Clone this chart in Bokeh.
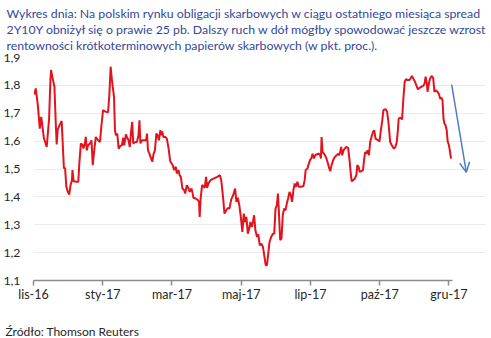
from bokeh.plotting import figure
from bokeh.models import Range1d, FixedTicker, Title, Arrow, OpenHead
from bokeh.embed import file_html
from bokeh.resources import INLINE

# trading-day index (x) and 2Y10Y spread in p.p. (y)
day_index = [0.6, 1.4, 2.7, 3.9, 4.8, 5.6, 6.4, 8.2, 8.8, 9.7, 10.5, 10.9, 11.9, 13.0, 13.8, 14.4, 15.0,
             16.2, 17.5, 18.3, 18.9, 19.6, 20.4, 21.2, 22.2, 23.0, 23.9, 24.2, 24.9, 26.7, 27.8, 28.4,
             29.4, 30.4, 31.0, 31.9, 32.5, 33.1, 33.9, 35.2, 36.0, 36.8, 37.6, 38.7, 40.1, 41.3, 42.1,
             43.2, 44.2, 45.2, 46.3, 47.1, 47.9, 48.7, 50.0, 50.6, 51.2, 52.0, 52.9, 53.9, 54.9, 55.7,
             56.3, 57.4, 58.2, 59.0, 59.8, 60.6, 61.3, 61.9, 63.1, 64.3, 65.2, 65.8, 66.4, 67.4, 68.9,
             69.9, 70.5, 71.1, 72.0, 73.0, 73.8, 74.6, 75.4, 76.3, 77.1, 77.9, 78.8, 79.4, 80.0, 80.6,
             81.9, 82.8, 83.9, 84.9, 86.4, 87.4, 88.4, 89.0, 90.1, 90.7, 91.5, 92.5, 93.6, 94.2, 95.2,
             96.2, 97.0, 98.1, 98.7, 99.3, 100.7, 102.2, 102.8, 103.2, 103.8, 104.7, 105.5, 106.3,
             107.2, 107.8, 108.6, 110.0, 112.1, 114.1, 115.8, 116.6, 117.8, 118.6, 119.7, 120.7,
             121.7, 122.8, 124.0, 125.2, 126.0, 126.9, 127.9, 128.9, 129.7, 130.6, 131.4, 132.2,
             133.1, 133.9, 134.7, 135.5, 136.3, 137.0, 137.8, 138.8, 139.6, 140.5, 141.5, 142.5,
             143.3, 144.2, 145.0, 145.8, 146.6, 147.6, 148.7, 149.5, 150.3, 151.1, 151.8, 152.4,
             153.2, 154.0, 154.8, 155.6, 156.5, 157.3, 158.1, 159.0, 159.8, 160.6, 161.4, 162.2,
             163.0, 163.9, 164.7, 165.9, 167.6, 168.4, 169.0, 170.1, 170.7, 171.7, 172.5, 173.3,
             174.2, 175.0, 175.8, 176.9, 177.9, 178.5, 178.9, 179.5, 180.6, 181.6, 182.6, 183.7,
             184.3, 185.1, 186.1, 187.1, 188.2, 189.2, 189.8, 190.4, 191.1, 191.7, 192.5, 193.3,
             194.3, 195.4, 196.4, 197.0, 197.6, 198.5, 199.4, 200.5, 201.1, 201.9, 202.5, 203.6,
             204.6, 205.4, 206.0, 206.7, 207.5, 208.3, 209.1, 209.9, 210.8, 211.6, 212.4, 214.1,
             214.9, 215.7, 216.5, 217.3, 218.6, 219.6, 220.4, 221.5, 222.5, 223.8, 224.7, 225.6,
             226.2, 226.8, 227.8, 228.9, 229.7, 230.5, 231.3, 232.4, 233.4, 234.2, 235.0, 235.8,
             236.9, 237.7, 238.7, 239.8, 240.8, 242.0, 242.9, 243.5, 244.3, 244.7, 245.3, 246.1,
             247.2, 248.2, 249.0, 249.8, 250.9, 251.9, 252.5, 253.4, 254.0, 254.6, 255.2, 256.0,
             256.6, 257.2, 258.0, 258.7, 259.3]
spread = [1.767, 1.789, 1.729, 1.645, 1.687, 1.651, 1.612, 1.579, 1.620, 1.681, 1.819, 1.855, 1.825,
          1.795, 1.669, 1.588, 1.640, 1.657, 1.672, 1.573, 1.502, 1.504, 1.436, 1.420, 1.408, 1.442,
          1.460, 1.496, 1.456, 1.454, 1.454, 1.514, 1.592, 1.586, 1.574, 1.592, 1.615, 1.567, 1.585,
          1.592, 1.603, 1.514, 1.561, 1.615, 1.603, 1.597, 1.651, 1.711, 1.707, 1.705, 1.703, 1.765,
          1.867, 1.819, 1.759, 1.639, 1.621, 1.627, 1.573, 1.583, 1.585, 1.612, 1.585, 1.624, 1.612,
          1.603, 1.579, 1.633, 1.669, 1.592, 1.596, 1.598, 1.621, 1.675, 1.592, 1.603, 1.603, 1.603,
          1.627, 1.567, 1.555, 1.538, 1.526, 1.555, 1.567, 1.627, 1.621, 1.603, 1.639, 1.621, 1.635,
          1.615, 1.615, 1.609, 1.573, 1.528, 1.514, 1.496, 1.508, 1.484, 1.496, 1.478, 1.472, 1.430,
          1.424, 1.412, 1.442, 1.432, 1.418, 1.430, 1.416, 1.397, 1.394, 1.388, 1.382, 1.328, 1.394,
          1.442, 1.439, 1.432, 1.472, 1.432, 1.448, 1.460, 1.466, 1.472, 1.478, 1.460, 1.394, 1.340,
          1.352, 1.360, 1.358, 1.391, 1.406, 1.430, 1.382, 1.397, 1.367, 1.320, 1.274, 1.340, 1.310,
          1.328, 1.268, 1.286, 1.310, 1.292, 1.310, 1.334, 1.280, 1.256, 1.265, 1.226, 1.232, 1.220,
          1.190, 1.155, 1.155, 1.197, 1.239, 1.256, 1.268, 1.268, 1.358, 1.370, 1.412, 1.346, 1.245,
          1.250, 1.334, 1.358, 1.352, 1.376, 1.394, 1.418, 1.406, 1.382, 1.424, 1.448, 1.436, 1.454,
          1.436, 1.436, 1.438, 1.460, 1.496, 1.502, 1.514, 1.532, 1.538, 1.555, 1.538, 1.550, 1.552,
          1.555, 1.552, 1.538, 1.615, 1.561, 1.553, 1.543, 1.525, 1.502, 1.492, 1.514, 1.532, 1.543,
          1.549, 1.555, 1.549, 1.561, 1.579, 1.549, 1.567, 1.573, 1.579, 1.576, 1.525, 1.484, 1.456,
          1.460, 1.464, 1.478, 1.514, 1.508, 1.490, 1.492, 1.496, 1.538, 1.561, 1.555, 1.567, 1.549,
          1.597, 1.615, 1.633, 1.639, 1.609, 1.603, 1.599, 1.639, 1.669, 1.711, 1.715, 1.705, 1.669,
          1.597, 1.585, 1.573, 1.579, 1.597, 1.633, 1.681, 1.684, 1.678, 1.753, 1.813, 1.822, 1.819,
          1.819, 1.825, 1.834, 1.825, 1.813, 1.801, 1.786, 1.791, 1.795, 1.798, 1.807, 1.831, 1.807,
          1.777, 1.798, 1.822, 1.834, 1.827, 1.777, 1.783, 1.777, 1.767, 1.753, 1.755, 1.747, 1.681,
          1.663, 1.655, 1.639, 1.599, 1.585, 1.561, 1.537]

x_tick_index = [0, 43, 86, 129, 172, 215, 258]
x_tick_labels = ["lis-16", "sty-17", "mar-17", "maj-17", "lip-17", "paź-17", "gru-17"]
y_ticks = [1.1, 1.2, 1.3, 1.4, 1.5, 1.6, 1.7, 1.8, 1.9]
y_tick_labels = ["1,1", "1,2", "1,3", "1,4", "1,5", "1,6", "1,7", "1,8", "1,9"]

arrow_x = [259.7, 268.8]
arrow_y = [1.803, 1.488]

title_lines = [
    "Wykres dnia: Na polskim rynku obligacji skarbowych w ciągu ostatniego miesiąca spread",
    "2Y10Y obniżył się o prawie 25 pb. Dalszy ruch w dół mógłby spowodować jeszcze wzrost",
    "rentowności krótkoterminowych papierów skarbowych (w pkt. proc.).",
]
source_text = "Źródło: Thomson Reuters"

FONT = "Lato"
TITLE_COLOR = "#34489A"
TEXT_COLOR = "#262626"

p = figure(width=491, height=338, output_backend="svg", toolbar_location=None,
           x_range=Range1d(0, 280.7), y_range=Range1d(1.1, 1.9),
           min_border_left=30, min_border_right=6, min_border_top=57, min_border_bottom=58)
p.outline_line_color = None
p.background_fill_color = "white"
p.border_fill_color = "white"
p.title.visible = False

p.line(day_index, spread, line_color="#E3131E", line_width=2)

p.add_layout(Arrow(end=OpenHead(size=10, line_color="#4F7EC0", line_width=1.5),
                   x_start=arrow_x[0], y_start=arrow_y[0], x_end=arrow_x[1], y_end=arrow_y[1],
                   line_color="#4F7EC0", line_width=1.5))

# axes
p.xaxis.ticker = FixedTicker(ticks=x_tick_index)
p.xaxis.major_label_overrides = {k: v for k, v in zip(x_tick_index, x_tick_labels)}
p.xaxis.bounds = (0, 260.3)
p.xaxis.axis_line_color = "#8C8C8C"
p.xaxis.axis_line_width = 1.5
p.xaxis.major_tick_line_color = "#8C8C8C"
p.xaxis.major_tick_line_width = 1.5
p.xaxis.major_tick_out = 5
p.xaxis.major_tick_in = 0
p.xaxis.minor_tick_line_color = None
p.xaxis.major_label_standoff = 1
p.xaxis.major_label_text_font = FONT
p.xaxis.major_label_text_font_size = "12.5px"
p.xaxis.major_label_text_color = TEXT_COLOR

p.yaxis.ticker = FixedTicker(ticks=y_ticks)
p.yaxis.major_label_overrides = {k: v for k, v in zip(y_ticks, y_tick_labels)}
p.yaxis.axis_line_color = None
p.yaxis.major_tick_line_color = None
p.yaxis.minor_tick_line_color = None
p.yaxis.major_tick_out = 0
p.yaxis.major_label_standoff = 13
p.yaxis.major_label_text_font = FONT
p.yaxis.major_label_text_font_size = "12.3px"
p.yaxis.major_label_text_color = TEXT_COLOR

p.xgrid.visible = False
p.ygrid.grid_line_color = "#EBEBEB"
p.ygrid.grid_line_width = 1
p.ygrid.bounds = (0, 260.3)

# title (three lines) above
p.add_layout(Title(text="\n".join(title_lines), align="left", offset=-27, standoff=6,
                   vertical_align="top",
                   text_font=FONT, text_font_size="12.3px", text_font_style="normal",
                   text_color=TITLE_COLOR, text_line_height=1.07), "above")
# blank spacer between the axis and the source note, then the source note
p.add_layout(Title(text=" ", standoff=5, text_font=FONT, text_font_size="8px"), "below")
p.add_layout(Title(text=source_text, align="left", offset=-28, standoff=0,
                   text_font=FONT, text_font_size="12px", text_font_style="normal",
                   text_color=TEXT_COLOR), "below")

open("out.html", "w").write(file_html(p, INLINE))
